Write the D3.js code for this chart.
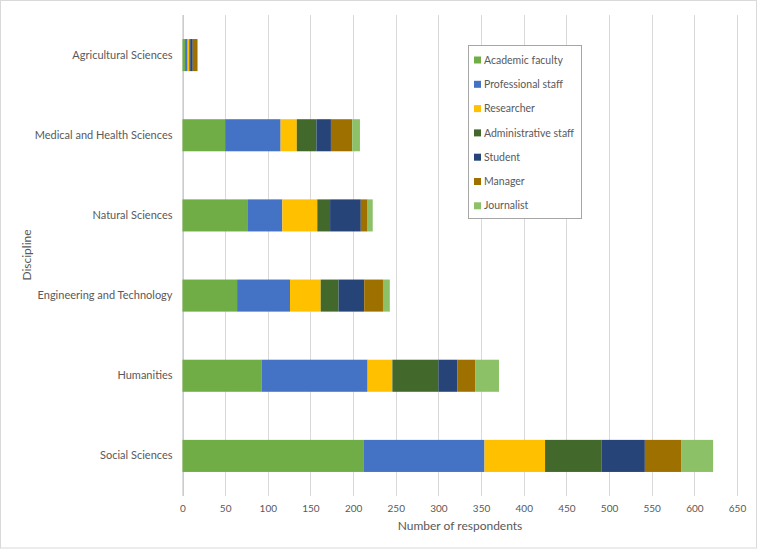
<!DOCTYPE html>
<html>
<head>
<meta charset="utf-8">
<script src="https://cdn.jsdelivr.net/npm/d3@7"></script>
<style>
  body { margin: 0; background: #fff; }
  text { font-family: Lato, "Open Sans", sans-serif; fill: #595959; }
</style>
</head>
<body>
<div id="grafica"></div>
<script>
// Datos del gráfico
var disciplines = ["Agricultural Sciences", "Medical and Health Sciences", "Natural Sciences",
  "Engineering and Technology", "Humanities", "Social Sciences"];
var roles = ["Academic faculty", "Professional staff", "Researcher", "Administrative staff",
  "Student", "Manager", "Journalist"];
var roleColors = ["#70ad47", "#4472c4", "#ffc000", "#43682b", "#264478", "#9e7000", "#8cc168"];

// un array por cada rol, en el orden de disciplines
var academicFaculty = [3, 50, 76, 64, 93, 212];
var professionalStaff = [3, 65, 41, 62, 124, 142];
var researcher = [2, 19, 41, 36, 29, 71];
var administrativeStaff = [1, 23, 15, 21, 54, 66];
var student = [3, 17, 36, 30, 22, 51];
var manager = [5, 25, 8, 22, 21, 43];
var journalist = [1, 9, 6, 8, 28, 37];

var xTicks = [0, 50, 100, 150, 200, 250, 300, 350, 400, 450, 500, 550, 600, 650];

var series = [academicFaculty, professionalStaff, researcher, administrativeStaff, student, manager, journalist];

// tabla para d3.stack
var data = disciplines.map(function (d, i) {
  var row = { discipline: d };
  roles.forEach(function (r, j) { row[r] = series[j][i]; });
  return row;
});

var width = 760, height = 550;

var svg = d3.select("#grafica")
  .append("svg")
  .attr("width", width)
  .attr("height", height);

// borde del gráfico
svg.append("rect")
  .attr("x", 0.5).attr("y", 0.5)
  .attr("width", width - 4).attr("height", height - 2.5)
  .attr("fill", "#fff")
  .attr("stroke", "#d9d9d9");

var x = d3.scaleLinear()
  .domain([0, 650])
  .range([182.5, 737]);

var y = d3.scaleBand()
  .domain(disciplines)
  .range([15, 496])
  .paddingInner(0.6)
  .paddingOuter(0.3);

var color = d3.scaleOrdinal().domain(roles).range(roleColors);

// líneas de la rejilla
svg.append("g")
  .selectAll("line")
  .data(xTicks)
  .enter()
  .append("line")
  .attr("x1", function (d) { return Math.round(x(d)) + 0.5; })
  .attr("x2", function (d) { return Math.round(x(d)) + 0.5; })
  .attr("y1", 15)
  .attr("y2", 496)
  .attr("stroke", "#d9d9d9")
  .attr("stroke-width", 1);

// eje x (solo etiquetas)
var xAxis = svg.append("g")
  .attr("transform", "translate(0,496)")
  .call(d3.axisBottom(x).tickValues(xTicks).tickSize(0).tickPadding(9));
xAxis.select(".domain").remove();
xAxis.selectAll("text").style("font-size", "10px").attr("fill", "#595959");

// eje y
var yAxis = svg.append("g")
  .attr("transform", "translate(" + x(0) + ",0)")
  .call(d3.axisLeft(y).tickSize(0).tickPadding(10));
yAxis.select(".domain").attr("stroke", "#bfbfbf").attr("d", "M0.5,15V496");
yAxis.selectAll("text").style("font-size", "11px").attr("fill", "#595959");

// barras apiladas
var stacked = d3.stack().keys(roles)(data);

svg.append("g")
  .selectAll("g")
  .data(stacked)
  .enter()
  .append("g")
  .attr("fill", function (d) { return color(d.key); })
  .selectAll("rect")
  .data(function (d) { return d; })
  .enter()
  .append("rect")
  .attr("x", function (d) { return x(d[0]); })
  .attr("y", function (d) { return y(d.data.discipline); })
  .attr("width", function (d) { return x(d[1]) - x(d[0]); })
  .attr("height", y.bandwidth());

// títulos de los ejes
svg.append("text")
  .attr("x", 460)
  .attr("y", 530)
  .attr("text-anchor", "middle")
  .style("font-size", "12px")
  .text("Number of respondents");

svg.append("text")
  .attr("transform", "translate(31,255) rotate(-90)")
  .attr("text-anchor", "middle")
  .style("font-size", "12px")
  .text("Discipline");

// leyenda
var legend = svg.append("g").attr("transform", "translate(468,45)");
legend.append("rect")
  .attr("x", 0.5).attr("y", 0.5)
  .attr("width", 113).attr("height", 173)
  .attr("fill", "#fff")
  .attr("stroke", "#a6a6a6");

var item = legend.selectAll("g.item")
  .data(roles)
  .enter()
  .append("g")
  .attr("class", "item")
  .attr("transform", function (d, i) { return "translate(6," + (15 + i * 24.3) + ")"; });

item.append("rect")
  .attr("x", 0).attr("y", -3.5)
  .attr("width", 7).attr("height", 7)
  .attr("fill", function (d) { return color(d); });

item.append("text")
  .attr("x", 10)
  .attr("y", 0)
  .attr("dy", "0.35em")
  .style("font-size", "10.5px")
  .text(function (d) { return d; });
</script>
</body>
</html>
